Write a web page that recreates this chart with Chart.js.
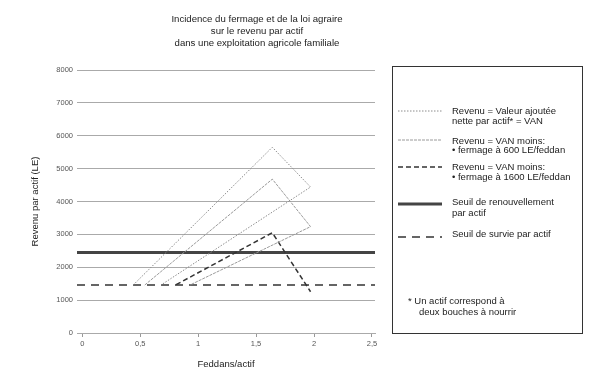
<!DOCTYPE html>
<html><head><meta charset="utf-8">
<script src="https://cdn.jsdelivr.net/npm/chart.js@4/dist/chart.umd.min.js"></script>
<style>
html,body{margin:0;padding:0;background:#fff;}
#wrap{position:relative;width:600px;height:378px;font-family:'Liberation Sans',Arial,sans-serif;color:#222;overflow:hidden;}
canvas{position:absolute;left:0;top:0;}
.t{position:absolute;font-size:9.5px;line-height:11px;white-space:nowrap;color:#222;}
#title{position:absolute;left:107px;width:300px;top:13px;text-align:center;font-size:9.6px;line-height:12px;color:#222;}
#legend{position:absolute;left:392px;top:66px;width:189px;height:266px;border:1px solid #333;}
svg{position:absolute;left:0;top:0;}
</style></head><body>
<div id="wrap">
<canvas id="c" width="600" height="378"></canvas>
<div id="title">Incidence du fermage et de la loi agraire<br>sur le revenu par actif<br>dans une exploitation agricole familiale</div>
<div id="legend"></div>
</div>
<script>
// ---- data ----
const xTicks = [0, 0.5, 1, 1.5, 2, 2.5];
const yTicks = [0, 1000, 2000, 3000, 4000, 5000, 6000, 7000, 8000];
const xRange = [-0.045, 2.526];
const yRange = [0, 8000];
const vanX   = [0.44, 1.64, 1.97, 0.68];
const vanY   = [1460, 5650, 4440, 1460];
const f600X  = [0.54, 1.64, 1.97, 0.93];
const f600Y  = [1460, 4680, 3235, 1460];
const f1600X = [0.81, 1.64, 1.97];
const f1600Y = [1470, 3050, 1255];
const seuilRenouvellement = 2450;
const seuilSurvie = 1460;
const legendLabels = [
  ['Revenu = Valeur ajoutée', 'nette par actif* = VAN'],
  ['Revenu = VAN moins:', '• fermage à 600 LE/feddan'],
  ['Revenu = VAN moins:', '• fermage à 1600 LE/feddan'],
  ['Seuil de renouvellement', 'par actif'],
  ['Seuil de survie par actif']
];
const footnote = ['* Un actif correspond à', 'deux bouches à nourrir'];

// ---- styles ----
const FAM = "'Liberation Sans', Arial, sans-serif";
const styles = [
  {color:'#8c8c8c', width:1, dash:[1.5,1.5]},
  {color:'#9a9a9a', width:1, dash:[3,1]},
  {color:'#333333', width:1.5, dash:[5,3]},
  {color:'#444444', width:3, dash:[]},
  {color:'#333333', width:1.3, dash:[8,6]}
];
const pts = (xs, ys) => xs.map((x, i) => ({x, y: ys[i]}));
const hline = v => [{x: xRange[0], y: v}, {x: xRange[1], y: v}];
const series = [pts(vanX, vanY), pts(f600X, f600Y), pts(f1600X, f1600Y), hline(seuilRenouvellement), hline(seuilSurvie)];

const datasets = series.map((d, i) => ({
  label: legendLabels[i].join(' '),
  data: d, showLine: true, fill: false, pointRadius: 0,
  borderColor: styles[i].color, borderWidth: styles[i].width, borderDash: styles[i].dash,
  tension: 0
}));

new Chart(document.getElementById('c'), {
  type: 'scatter',
  data: {datasets},
  options: {
    responsive: false, animation: false, devicePixelRatio: 1,
    layout: {padding: {top: 70, right: 225, left: 0, bottom: 0}},
    plugins: {legend: {display: false}, title: {display: false}, tooltip: {enabled: false}},
    scales: {
      x: {
        type: 'linear', min: xRange[0], max: xRange[1],
        afterBuildTicks: s => { s.ticks = xTicks.map(v => ({value: v})); },
        afterFit: s => { s.height = 45; },
        grid: {drawOnChartArea: false, drawTicks: true, tickLength: 4, color: '#999'},
        border: {display: true, color: '#aaa', width: 1},
        ticks: {padding: 2, autoSkip: false, maxRotation: 0, color: '#555',
                font: {size: 7.5, family: FAM}, callback: v => String(v).replace('.', ',')},
        title: {display: true, text: 'Feddans/actif', color: '#222',
                font: {size: 9.5, family: FAM}, padding: {top: 0, bottom: 7.5}}
      },
      y: {
        type: 'linear', min: yRange[0], max: yRange[1],
        afterBuildTicks: s => { s.ticks = yTicks.map(v => ({value: v})); },
        afterFit: s => { s.width = 77; },
        grid: {color: '#aaa', drawTicks: false},
        border: {display: false},
        ticks: {padding: 4, color: '#555', font: {size: 7.5, family: FAM}, callback: v => String(v)},
        title: {display: true, text: 'Revenu par actif (LE)', color: '#222',
                font: {size: 9.5, family: FAM}, padding: {top: 29.5, bottom: 0}}
      }
    }
  }
});

// ---- legend box (HTML) ----
const leg = document.getElementById('legend');
const ox = 393, oy = 67; // inner origin of box
const sampleY = [111, 140, 167, 204, 237];
const textY = [[110, 120.5], [140, 149.5], [166.5, 176], [201.5, 212.5], [233]];
let svg = '<svg width="189" height="266" xmlns="http://www.w3.org/2000/svg">';
styles.forEach((s, i) => {
  const y = sampleY[i] - oy;
  svg += `<line x1="${398-ox}" x2="${442-ox}" y1="${y}" y2="${y}" stroke="${s.color}" stroke-width="${s.width}" stroke-dasharray="${s.dash.length ? s.dash.join(' ') : 'none'}"/>`;
});
svg += '</svg>';
let html = svg;
legendLabels.forEach((lines, i) => {
  lines.forEach((ln, j) => {
    html += `<div class="t" style="left:${452-ox}px;top:${textY[i][j]-5.5-oy}px">${ln}</div>`;
  });
});
html += `<div class="t" style="left:${408-ox}px;top:${300-5.5-oy}px">${footnote[0]}</div>`;
html += `<div class="t" style="left:${419-ox}px;top:${311.5-5.5-oy}px">${footnote[1]}</div>`;
leg.innerHTML = html;
</script>
</body></html>
